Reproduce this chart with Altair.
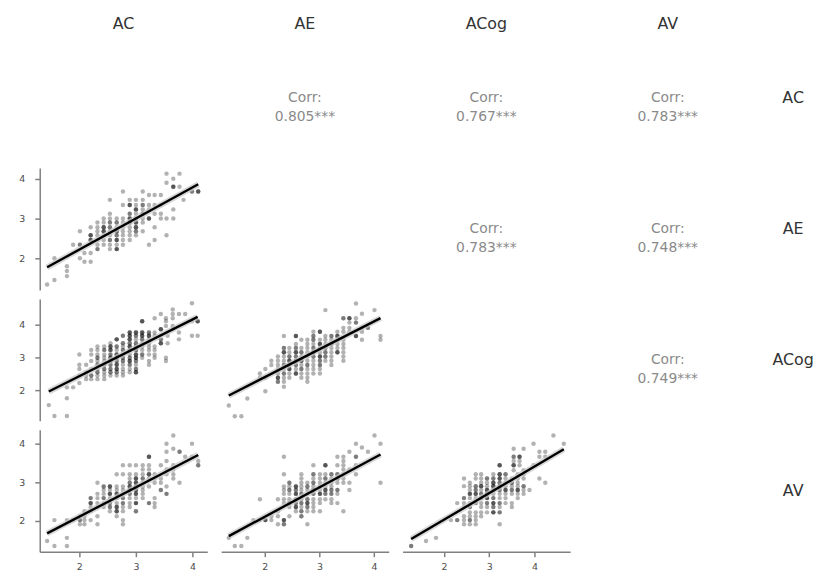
import altair as alt
import pandas as pd

VARS = ["AC", "AE", "ACog", "AV"]
DOMAINS = {"AC": [1.30, 4.26], "AE": [1.20, 4.27], "ACog": [1.08, 4.79], "AV": [1.20, 4.36]}
TICKS = [2, 3, 4]
CORR_LABELS = {
    ("AC", "AE"): "0.805***", ("AC", "ACog"): "0.767***", ("AC", "AV"): "0.783***",
    ("AE", "ACog"): "0.783***", ("AE", "AV"): "0.748***", ("ACog", "AV"): "0.749***",
}

# points: (x, y, multiplicity)
AC_AE = [
    (3.54,4.13,1),(3.77,4.13,1),(3.66,4.0,1),(3.54,3.90,1),(3.66,3.80,3),(3.77,3.80,1),
    (2.77,3.68,1),(3.12,3.68,1),(3.99,3.68,2),(4.10,3.68,3),
    (3.23,3.59,1),(3.33,3.59,1),(3.44,3.59,1),
    (2.54,3.47,1),(2.89,3.47,1),(3.00,3.47,1),(3.12,3.47,1),(3.84,3.47,1),
    (2.77,3.34,1),(2.89,3.34,3),(3.00,3.34,1),(3.12,3.34,2),(3.23,3.34,1),(3.33,3.34,1),(3.44,3.34,1),
    (3.00,3.23,3),(3.12,3.23,1),(3.23,3.23,1),(3.66,3.23,1),
    (2.54,3.12,1),(2.89,3.12,2),(3.00,3.12,1),(3.12,3.12,3),(3.33,3.12,1),(3.44,3.12,1),
    (2.43,3.0,1),(2.54,3.0,1),(2.66,3.0,1),(2.77,3.0,1),(2.89,3.0,3),(3.00,3.0,2),(3.12,3.0,1),(3.23,3.0,3),(3.44,3.0,1),(3.54,3.0,1),(3.66,3.0,1),
    (2.32,2.90,1),(2.43,2.90,1),(2.54,2.90,2),(2.66,2.90,2),(2.77,2.90,1),(2.89,2.90,3),(3.00,2.90,3),(3.12,2.90,1),
    (2.20,2.78,1),(2.32,2.78,1),(2.43,2.78,3),(2.54,2.78,2),(2.66,2.78,1),(2.77,2.78,1),(2.89,2.78,1),(3.00,2.78,3),(3.33,2.78,1),
    (2.01,2.68,1),(2.32,2.68,1),(2.43,2.68,3),(2.54,2.68,1),(2.66,2.68,3),(2.77,2.68,1),(2.89,2.68,1),(3.00,2.68,2),(3.12,2.68,1),
    (2.20,2.58,3),(2.32,2.58,1),(2.43,2.58,1),(2.54,2.58,1),(2.66,2.58,2),(2.77,2.58,1),(2.89,2.58,1),(3.00,2.58,1),(3.54,2.58,1),
    (2.20,2.46,3),(2.32,2.46,1),(2.43,2.46,1),(2.54,2.46,2),(2.66,2.46,3),(2.77,2.46,1),(2.89,2.46,1),(3.33,2.46,1),
    (1.89,2.34,1),(2.01,2.34,2),(2.32,2.34,1),(2.43,2.34,1),(2.54,2.34,1),(2.66,2.34,1),(2.77,2.34,1),(3.23,2.34,1),
    (2.32,2.23,2),(2.54,2.23,1),(2.66,2.23,3),(2.09,2.13,1),(2.20,2.13,1),
    (1.56,2.0,1),(2.01,2.0,1),(2.09,1.91,1),(2.20,1.91,1),
    (1.78,1.80,1),(1.78,1.68,1),(1.78,1.55,1),(1.56,1.45,1),(1.43,1.34,1),
]

AC_ACOG = [
    (3.99,4.66,1),(3.65,4.47,1),(3.65,4.33,1),(3.44,4.33,1),(3.76,4.33,1),(3.87,4.33,1),
    (3.33,4.20,1),(3.53,4.20,1),(3.65,4.20,1),
    (3.11,4.11,3),(3.53,4.11,1),(3.99,4.11,1),(4.09,4.11,3),
    (3.53,3.97,1),(3.65,3.97,1),(3.44,3.87,3),(3.65,3.87,1),
    (3.76,3.77,1),(3.00,3.77,3),(2.89,3.77,3),(3.11,3.77,3),(3.23,3.77,2),(3.33,3.77,1),
    (3.56,3.67,1),(3.99,3.67,1),(4.09,3.67,1),
    (2.77,3.67,2),(2.89,3.67,3),(3.00,3.67,2),(3.11,3.67,3),(3.23,3.67,3),(3.33,3.67,1),
    (3.76,3.56,1),(2.66,3.56,3),(2.89,3.56,3),(3.00,3.56,1),(3.11,3.56,2),(3.23,3.56,1),(3.44,3.56,2),
    (2.55,3.44,1),(2.77,3.44,2),(2.89,3.44,2),(3.00,3.44,2),(3.11,3.44,1),(3.23,3.44,1),(3.44,3.44,3),(3.56,3.44,1),
    (2.32,3.34,1),(2.44,3.34,1),(2.55,3.34,3),(2.66,3.34,2),(2.77,3.34,1),(2.89,3.34,3),(3.00,3.34,2),(3.11,3.34,1),(3.23,3.34,1),(3.33,3.34,1),
    (2.21,3.24,1),(2.32,3.24,1),(2.44,3.24,2),(2.55,3.24,3),(2.66,3.24,1),(2.77,3.24,2),(2.89,3.24,2),(3.00,3.24,3),(3.11,3.24,1),(3.23,3.24,1),(3.33,3.24,1),
    (2.00,3.10,1),(2.21,3.10,1),(2.32,3.10,1),(2.44,3.10,1),(2.55,3.10,2),(2.66,3.10,3),(2.77,3.10,1),(2.89,3.10,1),(3.00,3.10,3),(3.11,3.10,2),(3.23,3.10,1),(3.33,3.10,1),
    (2.32,3.0,2),(2.44,3.0,1),(2.55,3.0,3),(2.66,3.0,3),(2.77,3.0,2),(2.89,3.0,2),(3.00,3.0,3),(3.11,3.0,1),(3.33,3.0,1),(3.53,3.0,1),
    (2.21,2.90,1),(2.32,2.90,1),(2.44,2.90,1),(2.55,2.90,3),(2.66,2.90,2),(2.77,2.90,2),(2.89,2.90,3),(3.00,2.90,2),(3.23,2.90,1),(3.53,2.90,1),
    (2.00,2.79,1),(2.12,2.79,1),(2.32,2.79,2),(2.44,2.79,2),(2.55,2.79,2),(2.66,2.79,3),(2.77,2.79,1),(2.89,2.79,2),(3.00,2.79,1),(3.23,2.79,1),
    (2.00,2.66,1),(2.21,2.66,1),(2.32,2.66,1),(2.44,2.66,2),(2.55,2.66,2),(2.66,2.66,3),(2.77,2.66,1),(2.89,2.66,1),(3.00,2.66,2),
    (2.12,2.56,1),(2.32,2.56,2),(2.44,2.56,1),(2.55,2.56,2),(2.66,2.56,2),(2.77,2.56,1),(2.89,2.56,1),(3.00,2.56,3),
    (2.00,2.46,1),(2.12,2.46,1),(2.21,2.46,2),(2.32,2.46,1),(2.44,2.46,1),(2.55,2.46,1),(2.66,2.46,1),(2.77,2.46,1),
    (2.12,2.35,1),(2.21,2.35,1),(2.32,2.35,1),(2.44,2.35,1),(2.00,2.23,1),
    (1.78,2.10,1),(1.89,2.10,1),(1.78,1.77,1),(1.46,1.56,1),(1.56,1.23,1),(1.78,1.23,1),
]

AE_ACOG = [
    (3.67,4.65,1),(3.11,4.45,1),(4.01,4.45,1),(3.78,4.34,1),
    (3.44,4.20,2),(3.55,4.20,3),(3.67,4.20,1),(3.55,4.07,1),(3.67,4.07,2),
    (3.44,3.91,1),(3.55,3.91,1),(3.78,3.91,1),(3.89,3.91,2),
    (2.89,3.79,1),(3.01,3.79,3),(3.33,3.79,1),(3.44,3.79,1),(3.55,3.79,1),(3.78,3.79,1),
    (2.35,3.66,1),(2.57,3.66,3),(2.89,3.66,2),(3.11,3.66,1),(3.22,3.66,2),(3.33,3.66,3),(3.67,3.66,3),(4.12,3.66,1),
    (2.67,3.55,1),(2.78,3.55,1),(2.89,3.55,2),(3.01,3.55,1),(3.11,3.55,1),(3.22,3.55,1),(3.33,3.55,1),(3.44,3.55,1),(3.78,3.55,1),(4.12,3.55,1),
    (2.57,3.42,1),(2.78,3.42,1),(2.89,3.42,1),(3.01,3.42,3),(3.11,3.42,1),(3.22,3.42,2),(3.33,3.42,1),(3.44,3.42,1),
    (2.35,3.30,2),(2.45,3.30,1),(2.57,3.30,2),(2.67,3.30,1),(2.78,3.30,1),(2.89,3.30,2),(3.01,3.30,1),(3.11,3.30,2),(3.22,3.30,1),(3.33,3.30,1),(3.44,3.30,1),
    (2.35,3.17,3),(2.45,3.17,1),(2.57,3.17,3),(2.67,3.17,2),(2.78,3.17,1),(2.89,3.17,3),(3.01,3.17,1),(3.11,3.17,2),(3.22,3.17,1),(3.33,3.17,3),(3.44,3.17,1),
    (2.24,3.04,1),(2.35,3.04,1),(2.45,3.04,2),(2.57,3.04,2),(2.67,3.04,1),(2.78,3.04,1),(2.89,3.04,2),(3.01,3.04,3),(3.11,3.04,2),(3.22,3.04,1),(3.44,3.04,1),
    (2.12,2.91,1),(2.24,2.91,1),(2.35,2.91,1),(2.45,2.91,3),(2.57,2.91,3),(2.67,2.91,3),(2.78,2.91,1),(2.89,2.91,1),(3.01,2.91,2),(3.11,2.91,1),(3.22,2.91,1),(3.44,2.91,1),
    (2.12,2.78,1),(2.24,2.78,1),(2.35,2.78,2),(2.45,2.78,1),(2.57,2.78,2),(2.67,2.78,1),(2.78,2.78,2),(2.89,2.78,1),(3.01,2.78,2),(3.22,2.78,1),
    (2.01,2.66,1),(2.24,2.66,1),(2.35,2.66,1),(2.45,2.66,3),(2.57,2.66,1),(2.67,2.66,2),(2.78,2.66,1),(2.89,2.66,1),(3.01,2.66,1),
    (1.91,2.52,1),(2.24,2.52,1),(2.35,2.52,2),(2.45,2.52,1),(2.57,2.52,3),(2.67,2.52,1),(2.78,2.52,1),(2.89,2.52,1),(3.01,2.52,1),
    (1.91,2.39,1),(2.01,2.39,1),(2.24,2.39,3),(2.35,2.39,1),(2.45,2.39,1),(2.67,2.39,1),(2.78,2.39,1),
    (2.24,2.27,2),(2.35,2.27,1),(2.78,2.27,1),(2.35,2.12,1),(2.01,1.98,1),
    (1.68,1.76,1),(1.34,1.55,1),(1.45,1.22,1),(1.57,1.22,1),
]

AC_AV = [
    (3.66,4.21,1),(3.54,4.0,1),(3.99,4.0,1),(3.66,3.87,1),(3.54,3.79,1),(3.77,3.79,2),
    (3.23,3.66,3),(3.87,3.66,1),(3.99,3.66,1),(3.54,3.55,1),(4.10,3.55,1),
    (2.77,3.44,1),(2.89,3.44,1),(3.00,3.44,1),(3.12,3.44,1),(3.23,3.44,1),(3.44,3.44,1),(3.66,3.44,1),(4.10,3.44,2),
    (3.12,3.33,1),(3.23,3.33,1),(3.54,3.33,1),(3.66,3.33,1),
    (2.66,3.21,1),(2.77,3.21,1),(2.89,3.21,1),(3.00,3.21,1),(3.12,3.21,1),(3.23,3.21,3),(3.33,3.21,1),(3.54,3.21,1),(3.66,3.21,1),
    (2.89,3.10,1),(3.00,3.10,3),(3.12,3.10,2),(3.23,3.10,1),(3.33,3.10,1),(3.44,3.10,1),(3.66,3.10,1),
    (2.32,2.99,1),(2.89,2.99,2),(3.00,2.99,3),(3.12,2.99,1),(3.33,2.99,1),(3.44,2.99,1),(3.77,2.99,1),
    (2.43,2.89,2),(2.54,2.89,3),(2.66,2.89,1),(2.77,2.89,1),(2.89,2.89,3),(3.00,2.89,2),(3.12,2.89,1),(3.23,2.89,1),(3.54,2.89,1),
    (2.43,2.80,1),(2.54,2.80,1),(2.66,2.80,1),(2.77,2.80,1),(2.89,2.80,2),(3.00,2.80,3),(3.12,2.80,1),(3.44,2.80,2),
    (2.32,2.70,1),(2.43,2.70,1),(2.54,2.70,3),(2.66,2.70,3),(2.77,2.70,1),(2.89,2.70,2),(3.00,2.70,3),(3.12,2.70,1),(3.54,2.70,2),
    (2.20,2.59,2),(2.32,2.59,1),(2.43,2.59,2),(2.54,2.59,1),(2.66,2.59,1),(2.77,2.59,2),(2.89,2.59,1),(3.00,2.59,1),(3.12,2.59,1),(3.33,2.59,1),
    (2.20,2.46,3),(2.32,2.46,1),(2.43,2.46,1),(2.54,2.46,2),(2.66,2.46,1),(2.77,2.46,2),(2.89,2.46,1),(3.00,2.46,3),(3.23,2.46,2),(3.33,2.46,1),
    (2.20,2.36,1),(2.32,2.36,1),(2.43,2.36,1),(2.54,2.36,2),(2.66,2.36,3),(2.77,2.36,1),(2.89,2.36,1),(3.33,2.36,1),
    (2.09,2.25,1),(2.20,2.25,1),(2.54,2.25,1),(2.66,2.25,3),(2.77,2.25,1),(3.00,2.25,2),
    (2.01,2.12,1),(2.09,2.12,1),(2.32,2.12,1),(2.66,2.12,1),
    (1.56,2.02,1),(1.78,2.02,1),(1.89,2.02,1),(2.01,2.02,2),(2.09,2.02,1),(2.20,2.02,1),(2.77,2.02,1),
    (2.01,1.91,1),(2.09,1.91,1),(2.32,1.91,1),(2.77,1.91,1),
    (1.78,1.56,1),(1.43,1.48,1),(1.56,1.35,1),(1.78,1.35,1),
]

AE_AV = [
    (4.01,4.21,1),(3.67,4.0,1),(4.12,4.0,1),(3.78,3.90,1),(3.55,3.79,1),(3.89,3.79,1),
    (2.35,3.66,1),(3.33,3.66,1),(3.44,3.66,1),(3.67,3.66,2),(3.44,3.55,1),
    (2.89,3.44,1),(3.11,3.44,3),(3.33,3.44,1),(3.44,3.44,1),(3.67,3.44,1),(3.44,3.33,1),(3.55,3.33,1),
    (2.35,3.21,1),(2.67,3.21,1),(2.89,3.21,2),(3.01,3.21,1),(3.11,3.21,1),(3.22,3.21,2),(3.33,3.21,2),(3.44,3.21,1),(3.67,3.21,1),
    (2.67,3.10,1),(2.89,3.10,1),(3.01,3.10,1),(3.11,3.10,2),(3.22,3.10,1),(3.33,3.10,3),(3.44,3.10,1),
    (2.45,2.99,2),(2.67,2.99,1),(2.78,2.99,1),(2.89,2.99,2),(3.01,2.99,1),(3.11,2.99,1),(3.22,2.99,1),(3.33,2.99,1),(3.44,2.99,1),(3.55,2.99,1),(4.12,2.99,1),
    (2.35,2.89,1),(2.45,2.89,1),(2.57,2.89,3),(2.67,2.89,1),(2.78,2.89,2),(2.89,2.89,1),(3.01,2.89,1),(3.11,2.89,1),(3.22,2.89,1),
    (2.35,2.80,1),(2.45,2.80,2),(2.57,2.80,2),(2.67,2.80,1),(2.78,2.80,1),(2.89,2.80,3),(3.01,2.80,1),(3.11,2.80,3),(3.22,2.80,2),(3.33,2.80,2),(3.55,2.80,1),
    (2.35,2.70,1),(2.45,2.70,1),(2.57,2.70,3),(2.67,2.70,2),(2.78,2.70,1),(2.89,2.70,2),(3.01,2.70,3),(3.11,2.70,2),(3.22,2.70,2),(3.33,2.70,1),
    (1.91,2.56,1),(2.24,2.56,1),(2.35,2.56,1),(2.45,2.56,1),(2.57,2.56,2),(2.67,2.56,1),(2.78,2.56,2),(2.89,2.56,1),(3.01,2.56,1),(3.11,2.56,1),(3.22,2.56,1),
    (2.35,2.46,1),(2.45,2.46,3),(2.57,2.46,2),(2.67,2.46,2),(2.78,2.46,3),(2.89,2.46,1),(3.01,2.46,1),(3.22,2.46,1),(3.33,2.46,1),
    (2.45,2.36,1),(2.57,2.36,3),(2.67,2.36,1),(2.78,2.36,2),(2.89,2.36,1),
    (2.24,2.25,1),(2.57,2.25,1),(2.67,2.25,2),(2.78,2.25,1),(2.89,2.25,1),(3.01,2.25,1),(3.44,2.25,1),
    (2.12,2.12,1),(2.24,2.12,1),(2.45,2.12,1),(2.67,2.12,2),
    (1.79,2.02,1),(1.91,2.02,1),(2.01,2.02,3),(2.12,2.02,1),(2.35,2.02,3),
    (2.24,1.91,1),(2.35,1.91,2),(2.78,1.91,1),
    (1.34,1.56,1),(1.68,1.56,1),(1.45,1.35,1),(1.57,1.35,1),
]

ACOG_AV = [
    (4.42,4.21,1),(3.98,4.0,1),(4.65,4.0,1),(3.54,3.87,1),(3.76,3.87,1),(4.11,3.79,1),(4.24,3.79,1),
    (3.54,3.66,2),(3.67,3.66,3),(4.11,3.66,1),(4.24,3.66,1),(3.54,3.55,1),(3.67,3.55,1),
    (3.23,3.44,3),(3.54,3.44,3),(3.67,3.44,1),(3.98,3.44,1),(3.54,3.31,1),(3.76,3.31,1),
    (2.70,3.21,1),(2.82,3.21,1),(3.09,3.21,1),(3.23,3.21,3),(3.36,3.21,2),(3.63,3.21,1),(3.76,3.21,1),
    (2.44,3.10,1),(2.70,3.10,1),(2.82,3.10,1),(2.95,3.10,2),(3.09,3.10,2),(3.23,3.10,3),(3.36,3.10,1),(3.50,3.10,1),(3.63,3.10,1),(3.76,3.10,1),(4.11,3.10,1),
    (2.57,2.99,1),(2.82,2.99,1),(2.95,2.99,1),(3.09,2.99,3),(3.23,2.99,2),(3.36,2.99,1),(3.50,2.99,2),(3.63,2.99,1),(4.24,2.99,1),
    (2.44,2.90,1),(2.57,2.90,1),(2.70,2.90,2),(2.82,2.90,3),(2.95,2.90,1),(3.09,2.90,3),(3.23,2.90,3),(3.36,2.90,1),(3.50,2.90,1),(3.63,2.90,1),(3.76,2.90,2),
    (2.57,2.80,1),(2.70,2.80,2),(2.82,2.80,1),(2.95,2.80,3),(3.09,2.80,2),(3.23,2.80,2),(3.36,2.80,3),(3.50,2.80,2),(3.63,2.80,3),(3.76,2.80,1),(3.89,2.80,1),
    (2.57,2.70,3),(2.70,2.70,3),(2.82,2.70,2),(2.95,2.70,3),(3.09,2.70,1),(3.23,2.70,1),(3.36,2.70,1),(3.50,2.70,1),(3.63,2.70,1),(3.76,2.70,1),
    (2.44,2.59,2),(2.57,2.59,1),(2.70,2.59,1),(2.82,2.59,2),(2.95,2.59,3),(3.09,2.59,2),(3.23,2.59,1),(3.36,2.59,1),(3.63,2.59,1),
    (2.29,2.46,1),(2.44,2.46,1),(2.57,2.46,1),(2.70,2.46,2),(2.82,2.46,1),(2.95,2.46,2),(3.09,2.46,3),(3.23,2.46,2),(3.36,2.46,1),(3.50,2.46,1),
    (2.44,2.36,1),(2.57,2.36,2),(2.82,2.36,1),(2.95,2.36,1),(3.09,2.36,2),(3.23,2.36,1),(3.50,2.36,1),
    (2.57,2.22,1),(2.70,2.22,1),(2.82,2.22,1),(2.95,2.22,1),(3.09,2.22,3),(3.23,2.22,2),
    (2.44,2.12,1),(2.57,2.12,1),(2.70,2.12,1),(2.82,2.12,1),
    (2.15,2.02,1),(2.29,2.02,2),(2.44,2.02,1),(2.57,2.02,2),(2.70,2.02,1),
    (2.44,1.91,1),(2.57,1.91,1),(2.70,1.91,1),(3.23,1.91,1),
    (1.82,1.56,1),(1.60,1.48,1),(1.27,1.35,2),
]

PANELS = {
    ("AC", "AE"): AC_AE, ("AC", "ACog"): AC_ACOG, ("AE", "ACog"): AE_ACOG,
    ("AC", "AV"): AC_AV, ("AE", "AV"): AE_AV, ("ACog", "AV"): ACOG_AV,
}

W, H = 169, 123
HEAD_H = 18
LABEL_W = 40
FONT = "DejaVu Sans"


def text_cell(label, w, h, x, y, size, color, line_height=None):
    kw = dict(font=FONT, fontSize=size, color=color, align="center", baseline="middle")
    if line_height is not None:
        kw.update(lineBreak="\n", lineHeight=line_height)
    return (
        alt.Chart(pd.DataFrame({"t": [label]}))
        .mark_text(**kw)
        .encode(text="t:N", x=alt.value(x), y=alt.value(y))
        .properties(width=w, height=h)
    )


def blank(w, h):
    return text_cell("", w, h, w / 2, h / 2, 6, "#ffffff")


def scatter(xv, yv, show_x, show_y):
    rows = []
    for x, y, n in PANELS[(xv, yv)]:
        rows.extend([{"x": x, "y": y}] * n)
    df = pd.DataFrame(rows)
    xaxis = alt.Axis(values=TICKS, format="d", title=None) if show_x else None
    yaxis = alt.Axis(values=TICKS, format="d", title=None) if show_y else None
    xenc = alt.X("x:Q", scale=alt.Scale(domain=DOMAINS[xv], nice=False, zero=False), axis=xaxis)
    yenc = alt.Y("y:Q", scale=alt.Scale(domain=DOMAINS[yv], nice=False, zero=False), axis=yaxis)
    base = alt.Chart(df)
    pts = base.mark_circle(size=20, color="black", opacity=0.3).encode(x=xenc, y=yenc)
    band = base.transform_regression("x", "y").mark_line(
        color="#c8c8c8", strokeWidth=6, opacity=0.7).encode(x=xenc, y=yenc)
    line = base.transform_regression("x", "y").mark_line(
        color="black", strokeWidth=2.4).encode(x=xenc, y=yenc)
    return alt.layer(pts, band, line).properties(width=W, height=H)


cells = []
for v in VARS:
    cells.append(text_cell(v, W, HEAD_H, W / 2, 14, 16, "#333333"))
cells.append(blank(LABEL_W, HEAD_H))
for i, yv in enumerate(VARS):
    for j, xv in enumerate(VARS):
        if j < i:
            cells.append(scatter(xv, yv, show_x=(i == 3), show_y=(j == 0)))
        elif j > i:
            cells.append(text_cell("Corr:\n" + CORR_LABELS[(yv, xv)], W, H, W / 2, H / 2,
                                   14, "#8a8a8a", line_height=19))
        else:
            cells.append(blank(W, H))
    cells.append(text_cell(yv, LABEL_W, H, 28, H / 2, 16, "#333333"))

chart = (
    alt.concat(*cells, columns=5, spacing={"row": 9, "column": 14}, bounds="flush", align="each")
    .properties(padding={"left": 10, "top": 0, "right": 0, "bottom": 0})
    .configure_view(strokeOpacity=0)
    .configure_axis(
        labelFont=FONT, labelFontSize=9.5, labelColor="#4d4d4d",
        domainColor="#808080", domainWidth=1.5, tickColor="#808080", tickWidth=1.5,
        tickSize=5, grid=False,
    )
    .configure_axisX(labelPadding=5)
    .configure_axisY(labelPadding=10)
)

chart.save("out.html", embed_options={"renderer": "svg", "actions": False})
